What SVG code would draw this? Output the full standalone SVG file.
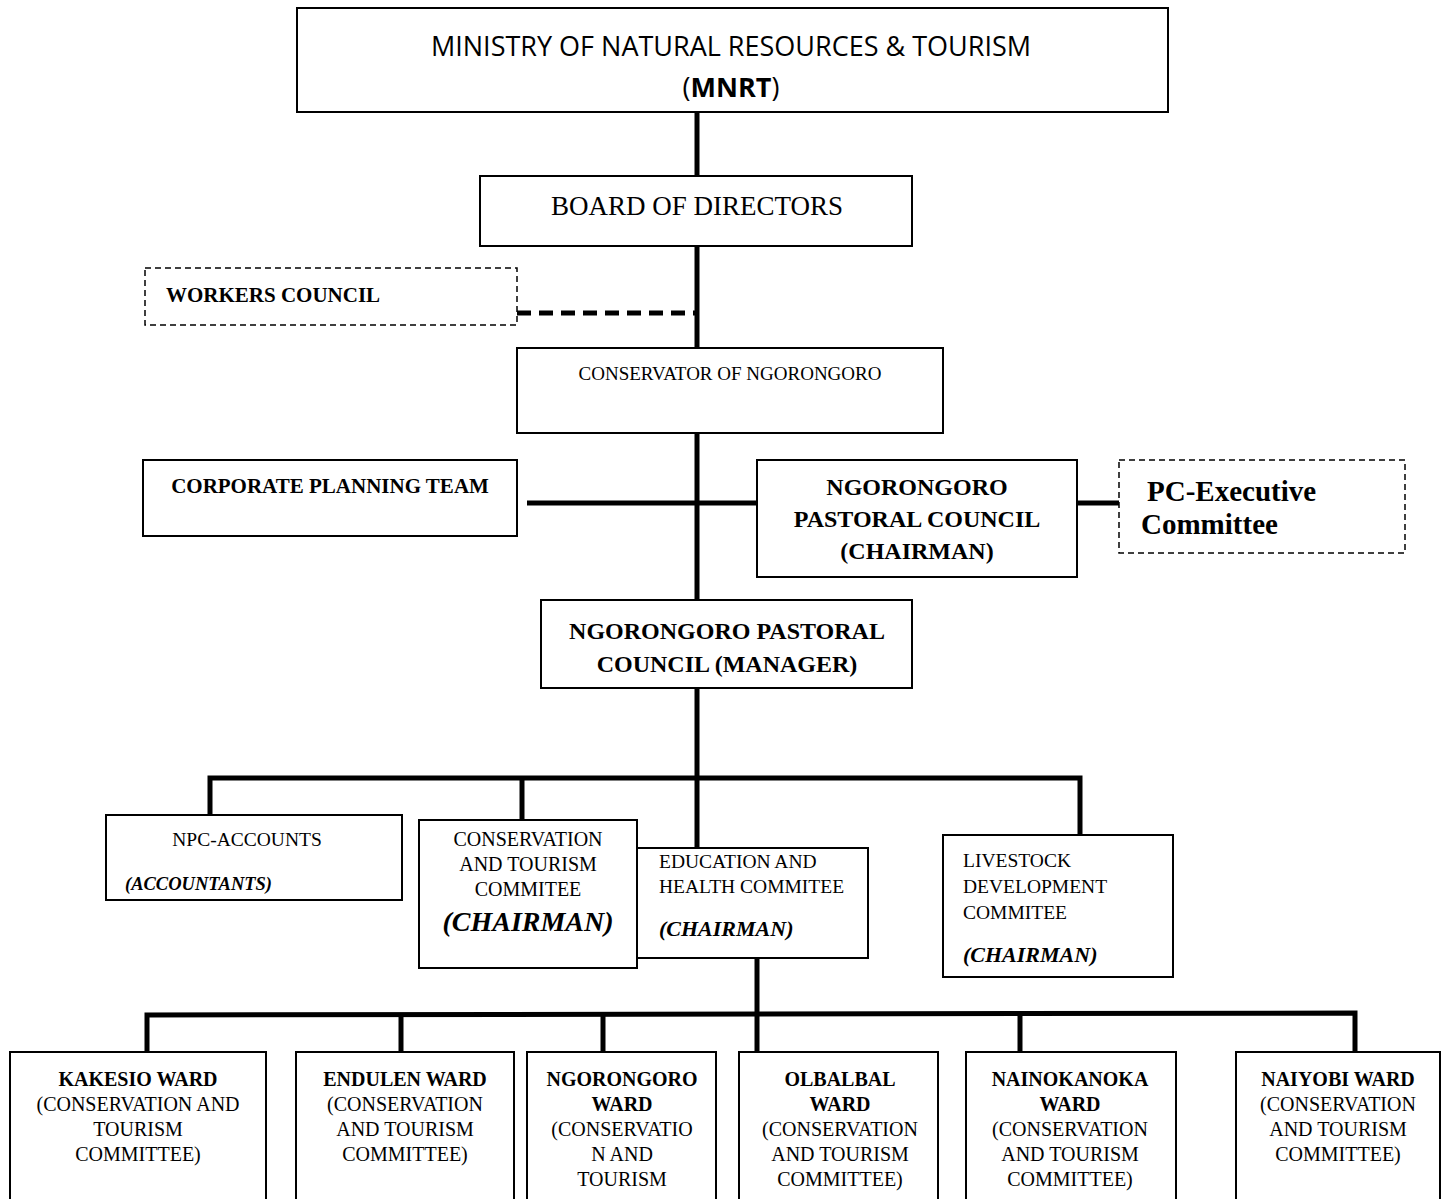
<svg xmlns="http://www.w3.org/2000/svg" width="1442" height="1199" viewBox="0 0 1442 1199">
<style>
.box{fill:#fff;stroke:#000;stroke-width:2}
.dbox{fill:#fff;stroke:#000;stroke-width:1.5;stroke-dasharray:6 4}
.ln{stroke:#000;stroke-width:5;fill:none}
.t{font-family:"Liberation Serif",serif;fill:#000}
.s{font-family:"Open Sans","Liberation Sans",sans-serif;fill:#000}
.b{font-weight:bold}
.i{font-style:italic}
.m{text-anchor:middle}
.w{font-size:20px}
</style>
<rect width="1442" height="1199" fill="#fff"/>
<g id="connectors">
<line class="ln" x1="697" y1="112" x2="697" y2="176"/>
<line class="ln" x1="697" y1="246" x2="697" y2="348"/>
<line class="ln" x1="517" y1="313" x2="697" y2="313" stroke-dasharray="14 8"/>
<line class="ln" x1="697" y1="433" x2="697" y2="600"/>
<line class="ln" x1="527" y1="503" x2="757" y2="503" stroke-width="6"/>
<line class="ln" x1="1077" y1="503" x2="1119" y2="503" stroke-width="4"/>
<line class="ln" x1="697" y1="688" x2="697" y2="850"/>
<polyline class="ln" points="210,815 210,778 1080,778 1080,835" stroke-width="6"/>
<line class="ln" x1="522" y1="778" x2="522" y2="820"/>
<line class="ln" x1="757" y1="958" x2="757" y2="1052"/>
<polyline class="ln" points="147,1068 147,1015 1355,1013 1355,1052" stroke-width="6"/>
<line class="ln" x1="401" y1="1014" x2="401" y2="1052"/>
<line class="ln" x1="603" y1="1014" x2="603" y2="1052"/>
<line class="ln" x1="1020" y1="1013" x2="1020" y2="1052"/>
</g>
<g id="mnrt">
<rect class="box" x="297" y="8" width="871" height="104"/>
<text class="s m" x="731" y="56" font-size="27">MINISTRY OF NATURAL RESOURCES &amp; TOURISM</text>
<text class="s m" x="731" y="97" font-size="27">(<tspan font-weight="bold">MNRT</tspan>)</text>
</g>
<g id="board">
<rect class="box" x="480" y="176" width="432" height="70"/>
<text class="t m" x="697" y="215" font-size="27">BOARD OF DIRECTORS</text>
</g>
<g id="workers">
<rect class="dbox" x="145" y="268" width="372" height="57"/>
<text class="t b" x="166" y="302" font-size="21">WORKERS COUNCIL</text>
</g>
<g id="conservator">
<rect class="box" x="517" y="348" width="426" height="85"/>
<text class="t m" x="730" y="380" font-size="19">CONSERVATOR OF NGORONGORO</text>
</g>
<g id="corporate">
<rect class="box" x="143" y="460" width="374" height="76"/>
<text class="t b m" x="330" y="493" font-size="21">CORPORATE PLANNING TEAM</text>
</g>
<g id="npc-chairman">
<rect class="box" x="757" y="460" width="320" height="117" stroke-width="1.5" stroke="#555"/>
<text class="t b m" x="917" y="495" font-size="24">NGORONGORO</text>
<text class="t b m" x="917" y="527" font-size="24">PASTORAL COUNCIL</text>
<text class="t b m" x="917" y="559" font-size="24">(CHAIRMAN)</text>
</g>
<g id="pc-exec">
<rect class="dbox" x="1119" y="460" width="286" height="93"/>
<text class="t b" x="1147" y="501" font-size="29">PC-Executive</text>
<text class="t b" x="1141" y="534" font-size="29">Committee</text>
</g>
<g id="npc-manager">
<rect class="box" x="541" y="600" width="371" height="88"/>
<text class="t b m" x="727" y="639" font-size="24">NGORONGORO PASTORAL</text>
<text class="t b m" x="727" y="672" font-size="24">COUNCIL (MANAGER)</text>
</g>
<g id="npc-accounts">
<rect class="box" x="106" y="815" width="296" height="85"/>
<text class="t m" x="247" y="846" font-size="19.5">NPC-ACCOUNTS</text>
<text class="t b i" x="125" y="890" font-size="18.5">(ACCOUNTANTS)</text>
</g>
<g id="conservation-committee">
<rect class="box" x="419" y="820" width="218" height="148"/>
<text class="t m" x="528" y="846" font-size="20">CONSERVATION</text>
<text class="t m" x="528" y="871" font-size="20">AND TOURISM</text>
<text class="t m" x="528" y="896" font-size="20">COMMITEE</text>
<text class="t b i m" x="528" y="931" font-size="28">(CHAIRMAN)</text>
</g>
<g id="education">
<rect class="box" x="637" y="848" width="231" height="110"/>
<text class="t" x="659" y="868" font-size="19.5">EDUCATION AND</text>
<text class="t" x="659" y="893" font-size="19.5">HEALTH COMMITEE</text>
<text class="t b i" x="659" y="936" font-size="22">(CHAIRMAN)</text>
</g>
<g id="livestock">
<rect class="box" x="943" y="835" width="230" height="142"/>
<text class="t" x="963" y="867" font-size="19.5">LIVESTOCK</text>
<text class="t" x="963" y="893" font-size="19.5">DEVELOPMENT</text>
<text class="t" x="963" y="919" font-size="19.5">COMMITEE</text>
<text class="t b i" x="963" y="962" font-size="22">(CHAIRMAN)</text>
</g>
<g id="kakesio">
<rect class="box" x="10" y="1052" width="256" height="160"/>
<text class="t m w" x="138" y="1086"><tspan class="b">KAKESIO WARD</tspan><tspan x="138" dy="25">(CONSERVATION AND</tspan><tspan x="138" dy="25">TOURISM</tspan><tspan x="138" dy="25">COMMITTEE)</tspan></text>
</g>
<g id="endulen">
<rect class="box" x="296" y="1052" width="218" height="160"/>
<text class="t m w" x="405" y="1086"><tspan class="b">ENDULEN WARD</tspan><tspan x="405" dy="25">(CONSERVATION</tspan><tspan x="405" dy="25">AND TOURISM</tspan><tspan x="405" dy="25">COMMITTEE)</tspan></text>
</g>
<g id="ngorongoro-ward">
<rect class="box" x="527" y="1052" width="189" height="160"/>
<text class="t m w" x="622" y="1086"><tspan class="b">NGORONGORO</tspan><tspan class="b" x="622" dy="25">WARD</tspan><tspan x="622" dy="25">(CONSERVATIO</tspan><tspan x="622" dy="25">N AND</tspan><tspan x="622" dy="25">TOURISM</tspan></text>
</g>
<g id="olbalbal">
<rect class="box" x="739" y="1052" width="199" height="160"/>
<text class="t m w" x="840" y="1086"><tspan class="b">OLBALBAL</tspan><tspan class="b" x="840" dy="25">WARD</tspan><tspan x="840" dy="25">(CONSERVATION</tspan><tspan x="840" dy="25">AND TOURISM</tspan><tspan x="840" dy="25">COMMITTEE)</tspan></text>
</g>
<g id="nainokanoka">
<rect class="box" x="966" y="1052" width="210" height="160"/>
<text class="t m w" x="1070" y="1086"><tspan class="b">NAINOKANOKA</tspan><tspan class="b" x="1070" dy="25">WARD</tspan><tspan x="1070" dy="25">(CONSERVATION</tspan><tspan x="1070" dy="25">AND TOURISM</tspan><tspan x="1070" dy="25">COMMITTEE)</tspan></text>
</g>
<g id="naiyobi">
<rect class="box" x="1236" y="1052" width="204" height="160"/>
<text class="t m w" x="1338" y="1086"><tspan class="b">NAIYOBI WARD</tspan><tspan x="1338" dy="25">(CONSERVATION</tspan><tspan x="1338" dy="25">AND TOURISM</tspan><tspan x="1338" dy="25">COMMITTEE)</tspan></text>
</g>
</svg>
